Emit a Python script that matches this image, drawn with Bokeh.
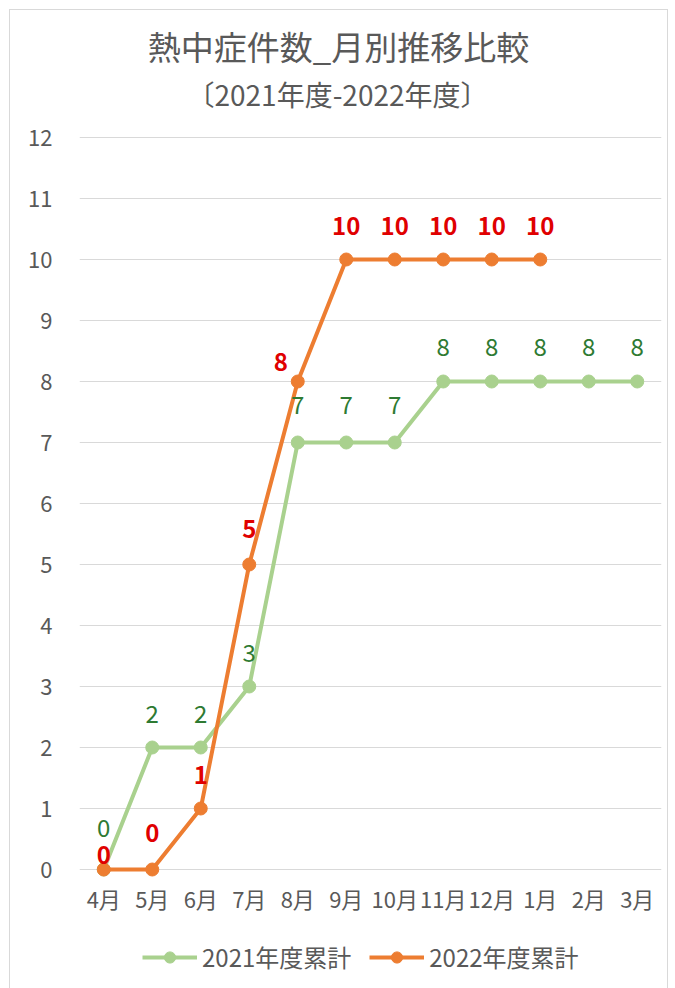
from bokeh.plotting import figure
from bokeh.models import (ColumnDataSource, FixedTicker, Legend, LegendItem,
                          Range1d, Label, LabelSet, FactorRange)
from bokeh.core.properties import value
from bokeh.embed import file_html
from bokeh.resources import INLINE

# ---- data ----
months = ["4月", "5月", "6月", "7月", "8月", "9月", "10月", "11月", "12月", "1月", "2月", "3月"]
cum_2021 = [0, 2, 2, 3, 7, 7, 7, 8, 8, 8, 8, 8]
cum_2022 = [0, 0, 1, 5, 8, 10, 10, 10, 10, 10]
y_ticks = list(range(0, 13))
title_text = "熱中症件数_月別推移比較"
subtitle_text = "〔2021年度-2022年度〕"
series_names = ["2021年度累計", "2022年度累計"]

# label placement tweaks (screen px)
dx_2021 = [0] * 12
dy_2021 = [42, 34, 34, 34, 38, 38, 38, 35, 35, 35, 35, 35]
dx_2022 = [0, 0, 0, 0, -17, 0, 0, 0, 0, 0]
dy_2022 = [15, 37, 34, 36, 20, 34, 34, 34, 34, 34]

FONT = "Noto Sans CJK JP"
GRAY = "#595959"
GREEN = "#a9d18e"
ORANGE = "#ed7d31"
GREEN_TXT = "#2e7a32"
RED_TXT = "#e00000"

# layout (pixels): value 0 sits 869px down the page, 61px per unit
PX_PER_UNIT = 61
ZERO_PX = 869
FRAME_TOP_PX, FRAME_BOTTOM_PX = 14, 995
FRAME_W = 582
FRAME_H = FRAME_BOTTOM_PX - FRAME_TOP_PX
Y0 = (ZERO_PX - FRAME_BOTTOM_PX) / PX_PER_UNIT
Y1 = (ZERO_PX - FRAME_TOP_PX) / PX_PER_UNIT

src21 = ColumnDataSource(dict(x=months, y=cum_2021, t=[str(v) for v in cum_2021],
                              dx=dx_2021, dy=dy_2021))
src22 = ColumnDataSource(dict(x=months[:len(cum_2022)], y=cum_2022,
                              t=[str(v) for v in cum_2022], dx=dx_2022, dy=dy_2022))

p = figure(x_range=FactorRange(*months), y_range=Range1d(Y0, Y1),
           frame_width=FRAME_W, frame_height=FRAME_H,
           min_border_left=69, min_border_right=6, min_border_top=4,
           min_border_bottom=0,
           output_backend="svg", toolbar_location=None, title=None)

p.styles = {"border": "1px solid #d9d9d9", "margin": "9px 0 0 9px"}

# titles live in the empty upper part of the plot frame
main = Label(x=259, y=(ZERO_PX - 45) / PX_PER_UNIT, x_units="screen", y_units="data",
             text=title_text, text_align="center", text_baseline="middle",
             text_font=FONT, text_font_size="33px", text_color=GRAY)
sub = Label(x=258, y=(ZERO_PX - 93) / PX_PER_UNIT, x_units="screen", y_units="data",
            text=subtitle_text, text_align="center", text_baseline="middle",
            text_font=FONT, text_font_size="28px", text_color=GRAY)
p.add_layout(main)
p.add_layout(sub)

l21 = p.line("x", "y", source=src21, line_color=GREEN, line_width=4)
s21 = p.scatter("x", "y", source=src21, size=13, fill_color=GREEN, line_color=GREEN)
l22 = p.line("x", "y", source=src22, line_color=ORANGE, line_width=4)
s22 = p.scatter("x", "y", source=src22, size=13, fill_color=ORANGE, line_color=ORANGE)

lab21 = LabelSet(x="x", y="y", text="t", source=src21, x_offset="dx", y_offset="dy",
                 text_align="center", text_baseline="middle", text_font=value(FONT),
                 text_font_size="24px", text_color=GREEN_TXT)
lab22 = LabelSet(x="x", y="y", text="t", source=src22, x_offset="dx", y_offset="dy",
                 text_align="center", text_baseline="middle", text_font=value(FONT),
                 text_font_size="24px", text_color=RED_TXT, text_font_style="bold")
p.add_layout(lab21)
p.add_layout(lab22)

p.xgrid.grid_line_color = None
p.ygrid.grid_line_color = "#d9d9d9"
p.ygrid.grid_line_width = 1
p.yaxis.ticker = FixedTicker(ticks=y_ticks)
for ax in (p.xaxis[0], p.yaxis[0]):
    ax.axis_line_color = None
    ax.major_tick_line_color = None
    ax.minor_tick_line_color = None
    ax.major_tick_out = 0
    ax.major_tick_in = 0
    ax.major_label_text_color = GRAY
    ax.major_label_text_font = FONT
    ax.major_label_text_font_size = "22px"
p.yaxis.major_label_standoff = 27
p.xaxis.major_label_standoff = 0
p.xaxis.fixed_location = (ZERO_PX - 881) / PX_PER_UNIT
p.outline_line_color = None

legend = Legend(items=[LegendItem(label=series_names[0], renderers=[l21, s21]),
                       LegendItem(label=series_names[1], renderers=[l22, s22])],
                orientation="horizontal", location=(63, 21),
                label_text_font=FONT, label_text_font_size="24px",
                label_text_color=GRAY, glyph_width=55, glyph_height=28,
                spacing=18, border_line_color=None, background_fill_alpha=0,
                margin=0, padding=0, label_standoff=5)
p.add_layout(legend)

open("out.html", "w").write(file_html(p, INLINE))
